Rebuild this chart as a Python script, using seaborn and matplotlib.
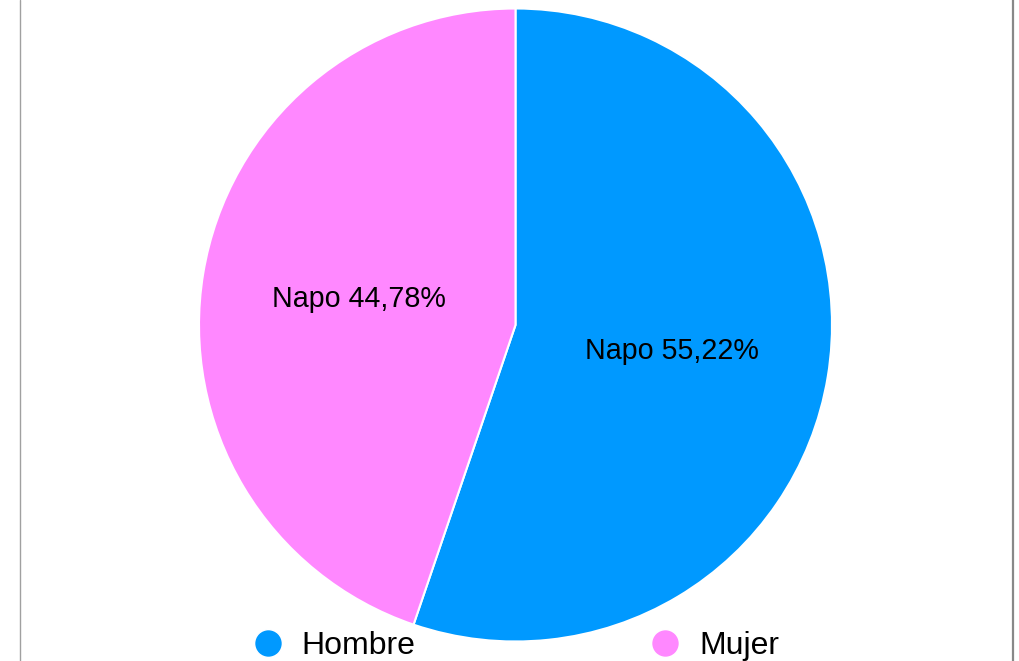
import matplotlib
matplotlib.use("Agg")
import matplotlib.pyplot as plt
from matplotlib.lines import Line2D
import seaborn as sns

# datos
categorias = ["Hombre", "Mujer"]
porcentajes = [55.22, 44.78]
colores = ["#0099FF", "#FF88FF"]
region = "Napo"

sns.set_theme(style="white")
plt.rcParams['font.family'] = ['Liberation Sans', 'DejaVu Sans']
plt.rcParams['text.color'] = 'black'

W, H = 1020, 661
fig = plt.figure(figsize=(W / 100, H / 100), dpi=100)

# eje cuadrado para el pastel
cx, cy, r = 515.5, 336.0, 316.5
ax = fig.add_axes([(cx - r) / W, (cy - r) / H, 2 * r / W, 2 * r / H])


def etiqueta(pct):
    return f"{region} {pct:.2f}%".replace(".", ",")


wedges, textos, autotextos = ax.pie(
    porcentajes,
    colors=colores,
    startangle=90,
    counterclock=False,
    autopct=etiqueta,
    pctdistance=0.5,
    wedgeprops=dict(edgecolor="white", linewidth=1.5),
    textprops=dict(fontsize=20.6, color="black"),
)
ax.set_xlim(-1, 1)
ax.set_ylim(-1, 1)
ax.set_aspect("equal")
ax.axis("off")

# bordes grises del marco
fig.add_artist(Line2D([19.5 / W, 19.5 / W], [0, 1], color="#a0a0a0", lw=1))
fig.add_artist(Line2D([1013 / W, 1013 / W], [0, 1], color="#888888", lw=1.6))

# leyenda
handles = [
    Line2D([0], [0], marker="o", linestyle="none", markersize=20,
           markerfacecolor=c, markeredgecolor="white", markeredgewidth=1)
    for c in colores
]
leg = fig.legend(
    handles, categorias,
    loc="center",
    bbox_to_anchor=(515.4 / W, 1 - 646 / H),
    ncol=2,
    frameon=False,
    fontsize=23,
    handlelength=1.0,
    handletextpad=0.56,
    columnspacing=7.33,
    borderpad=0,
    borderaxespad=0,
)
for t in leg.get_texts():
    t.set_color("black")

fig.savefig("out.png", dpi=100)
